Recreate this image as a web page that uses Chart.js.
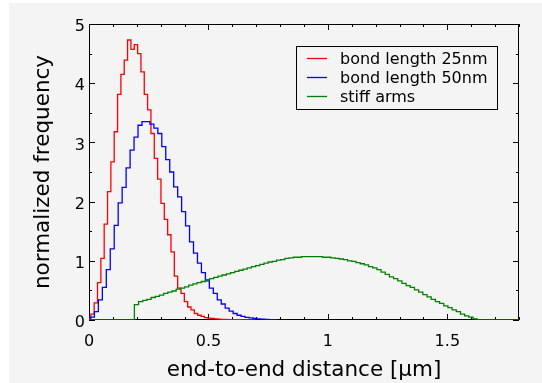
<!DOCTYPE html>
<html>
<head>
<meta charset="utf-8">
<script src="https://cdn.jsdelivr.net/npm/chart.js@4.4.0/dist/chart.umd.min.js"></script>
<style>
html, body { margin: 0; padding: 0; background: #fff; }
#wrap { width: 542px; height: 383px; }
</style>
</head>
<body>
<div id="wrap"><canvas id="hist" width="542" height="383"></canvas></div>
<script>
// histogram bins: left edge of the first bin, bin width, bin heights
var redStart = -0.0063, redWidth = 0.01398;
var red25 = [0.03, 0.10, 0.29, 0.63, 1.04, 1.62, 2.17, 2.67, 3.18, 3.81, 4.15, 4.39, 4.73, 4.57, 4.65, 4.50,
    4.19, 3.81, 3.55, 3.15, 2.73, 2.38, 1.97, 1.70, 1.44, 1.15, 0.74, 0.54, 0.45, 0.31, 0.22, 0.17, 0.11,
    0.08, 0.06, 0.04, 0.03, 0.025, 0.02, 0.015, 0.012, 0.01, 0.008, 0.006, 0.005, 0.004, 0.003, 0.002,
    0.002, 0.001];

var blueStart = -0.0105, blueWidth = 0.01659;
var blue50 = [0.01, 0.05, 0.14, 0.34, 0.55, 0.85, 1.20, 1.60, 1.98, 2.24, 2.57, 2.87, 3.09, 3.29, 3.35, 3.35,
    3.31, 3.24, 3.15, 2.93, 2.71, 2.50, 2.25, 2.08, 1.83, 1.59, 1.32, 1.13, 0.96, 0.80, 0.66, 0.54, 0.45,
    0.34, 0.27, 0.20, 0.15, 0.11, 0.08, 0.06, 0.045, 0.035, 0.025, 0.02, 0.015, 0.01, 0.008, 0.005];

var greenStart = 0.19, greenWidth = 0.0175;
var stiffArms = [0.26, 0.31, 0.33, 0.35, 0.38, 0.40, 0.42, 0.45, 0.47, 0.49, 0.52, 0.54, 0.56, 0.59, 0.61,
    0.63, 0.65, 0.68, 0.70, 0.72, 0.74, 0.76, 0.78, 0.80, 0.82, 0.84, 0.86, 0.88, 0.90, 0.92, 0.94, 0.96,
    0.98, 0.99, 1.01, 1.02, 1.04, 1.05, 1.06, 1.06, 1.07, 1.07, 1.07, 1.07, 1.07, 1.06, 1.06, 1.05, 1.04,
    1.03, 1.02, 1.00, 0.99, 0.97, 0.95, 0.93, 0.90, 0.88, 0.85, 0.81, 0.77, 0.73, 0.70, 0.66, 0.62, 0.58,
    0.55, 0.51, 0.47, 0.43, 0.39, 0.35, 0.31, 0.28, 0.24, 0.21, 0.17, 0.14, 0.10, 0.07, 0.05, 0.02];

var seriesNames = ['bond length 25nm', 'bond length 50nm', 'stiff arms'];
var seriesColors = ['#ff0000', '#0000ff', '#008000'];
var xTicks = [0, 0.5, 1, 1.5];
var yTicks = [0, 1, 2, 3, 4, 5];
var xMin = 0, xMax = 1.8, yMin = 0, yMax = 5;

var bg = '#f4f4f4';
var fontFam = '"DejaVu Sans", sans-serif';

// turn bins into step points (value holds until next edge)
function stepPoints(start, width, vals, fromZero) {
    var pts = [];
    if (fromZero) pts.push({x: xMin, y: 0});
    pts.push({x: start, y: 0});
    for (var i = 0; i < vals.length; i++) {
        pts.push({x: start + i * width, y: vals[i]});
    }
    pts.push({x: start + vals.length * width, y: 0});
    if (fromZero) pts.push({x: xMax, y: 0});
    return pts;
}

var frameTicks = {
    id: 'frameTicks',
    beforeDraw: function(chart) {
        var c = chart.ctx;
        c.save();
        c.fillStyle = '#fff';
        c.fillRect(0, 0, chart.width, chart.height);
        c.fillStyle = bg;
        c.fillRect(9, 3, chart.width - 9, chart.height - 3);
        c.restore();
    },
    beforeDatasetsDraw: function(chart) {
        var c = chart.ctx, a = chart.chartArea;
        var xs = chart.scales.x, ys = chart.scales.y;
        c.save();
        c.strokeStyle = '#000';
        c.lineWidth = 1;
        c.strokeRect(a.left + 0.5, a.top + 0.5, a.right - a.left - 1, a.bottom - a.top - 1);
        c.beginPath();
        // x ticks, major every 0.5, minor every 0.1
        for (var i = 0; i <= 18; i++) {
            var v = i / 10;
            var len = (i % 5 === 0) ? 6 : 3;
            var px = Math.round(xs.getPixelForValue(v)) + 0.5;
            c.moveTo(px, a.bottom); c.lineTo(px, a.bottom - len);
            c.moveTo(px, a.top); c.lineTo(px, a.top + len);
        }
        // y ticks, major every 1, minor every 0.5
        for (var j = 0; j <= 10; j++) {
            var w = j / 2;
            var l2 = (j % 2 === 0) ? 6 : 3;
            var py = Math.round(ys.getPixelForValue(w)) + 0.5;
            c.moveTo(a.left, py); c.lineTo(a.left + l2, py);
            c.moveTo(a.right, py); c.lineTo(a.right - l2, py);
        }
        c.stroke();
        c.restore();
    },
    afterDraw: function(chart) {
        var c = chart.ctx;
        var bx = 296.5, by = 46.5, bw = 201, bh = 63;
        c.save();
        c.fillStyle = bg;
        c.fillRect(bx, by, bw, bh);
        c.strokeStyle = '#000';
        c.lineWidth = 1;
        c.strokeRect(bx, by, bw, bh);
        c.font = '16px ' + fontFam;
        c.textBaseline = 'middle';
        c.fillStyle = '#000';
        chart.data.datasets.forEach(function(ds, k) {
            var ry = 58.5 + k * 19;
            c.strokeStyle = ds.borderColor;
            c.lineWidth = 1.3;
            c.beginPath();
            c.moveTo(307, ry); c.lineTo(327, ry);
            c.stroke();
            c.fillText(ds.label, 340, ry + 1);
        });
        c.restore();
    }
};

var ctx = document.getElementById('hist').getContext('2d');
var histChart = new Chart(ctx, {
    type: 'line',
    data: {
        datasets: [{
            label: seriesNames[0],
            data: stepPoints(redStart, redWidth, red25, false),
            borderColor: seriesColors[0],
            order: 2
        }, {
            label: seriesNames[1],
            data: stepPoints(blueStart, blueWidth, blue50, false),
            borderColor: seriesColors[1],
            order: 1
        }, {
            label: seriesNames[2],
            data: stepPoints(greenStart, greenWidth, stiffArms, true),
            borderColor: seriesColors[2],
            order: 0
        }]
    },
    options: {
        responsive: false,
        animation: false,
        events: [],
        layout: { padding: { left: 0, right: 23, top: 24, bottom: 0 } },
        elements: {
            line: { borderWidth: 1.3, stepped: true, fill: false, tension: 0 },
            point: { radius: 0 }
        },
        plugins: { legend: { display: false }, tooltip: { enabled: false } },
        scales: {
            x: {
                type: 'linear',
                min: xMin, max: xMax,
                afterBuildTicks: function(s) { s.ticks = xTicks.map(function(v) { return {value: v}; }); },
                afterFit: function(s) { s.height = 63; },
                grid: { display: false, drawTicks: false },
                border: { display: false },
                ticks: {
                    color: '#000', padding: 12.5, maxRotation: 0, autoSkip: false,
                    font: { family: fontFam, size: 16 },
                    callback: function(v) { return String(v); }
                },
                title: {
                    display: true, text: 'end-to-end distance [μm]', color: '#000',
                    font: { family: fontFam, size: 21.5 }, padding: 0
                }
            },
            y: {
                type: 'linear',
                min: yMin, max: yMax,
                afterBuildTicks: function(s) { s.ticks = yTicks.map(function(v) { return {value: v}; }); },
                afterFit: function(s) { s.width = 89; },
                grid: { display: false, drawTicks: false },
                border: { display: false },
                ticks: {
                    color: '#000', padding: 4, labelOffset: 3,
                    font: { family: fontFam, size: 16 },
                    callback: function(v) { return String(v); }
                },
                title: {
                    display: true, text: 'normalized frequency', color: '#000',
                    font: { family: fontFam, size: 21.5 }, padding: { top: 31, bottom: 0 }
                }
            }
        }
    },
    plugins: [frameTicks]
});
</script>
</body>
</html>
